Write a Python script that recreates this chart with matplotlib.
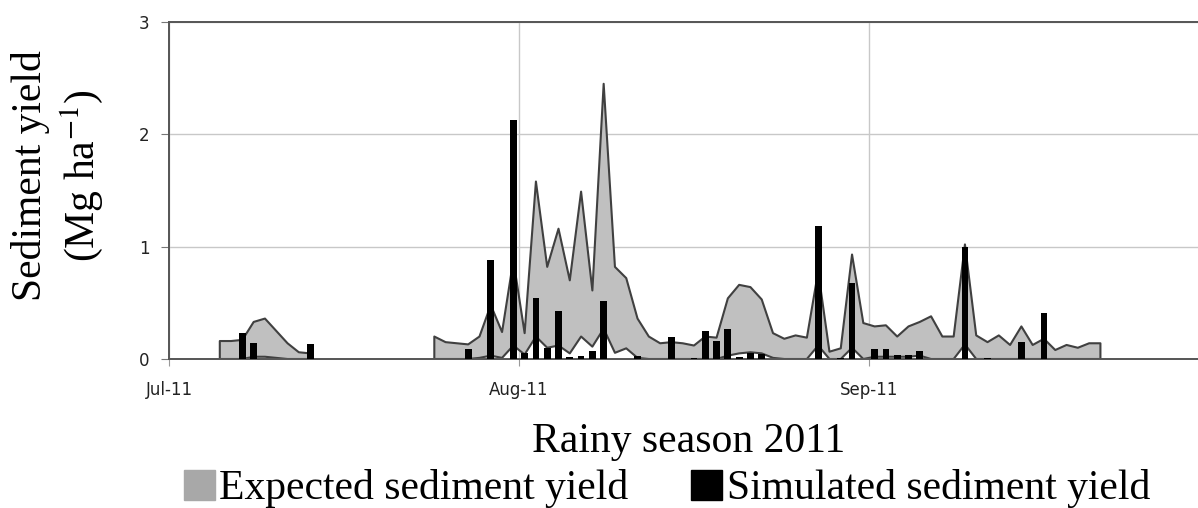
import numpy as np
import pandas as pd
import matplotlib
matplotlib.use('Agg')
import matplotlib.pyplot as plt
import matplotlib.dates as mdates
from matplotlib.patches import Patch

nan = np.nan

## daily expected sediment yield band (Mg/ha), Jul 5 - Sep 21 2011
days = pd.date_range('2011-07-05', '2011-09-21', freq='D')
expected_upper = [0.16, 0.16, 0.17, 0.33, 0.36, 0.25, 0.14, 0.06, 0.05,
                  nan, nan, nan, nan, nan, nan, nan, nan, nan, nan,
                  0.20, 0.15, 0.14, 0.13, 0.20, 0.48, 0.24, 0.88, 0.23, 1.58,
                  0.82, 1.16, 0.70, 1.49, 0.61, 2.45, 0.82, 0.72, 0.36, 0.20,
                  0.14, 0.15, 0.14, 0.12, 0.20, 0.19, 0.54, 0.66, 0.64, 0.53,
                  0.23, 0.18, 0.21, 0.19, 0.78, 0.065, 0.095, 0.93, 0.32, 0.29,
                  0.30, 0.20, 0.29, 0.33, 0.38, 0.20, 0.20, 1.02, 0.21, 0.15,
                  0.21, 0.125, 0.29, 0.125, 0.18, 0.08, 0.125, 0.10, 0.14, 0.14]
expected_lower = [0, 0, 0, 0.02, 0.02, 0.01, 0, 0, 0,
                  nan, nan, nan, nan, nan, nan, nan, nan, nan, nan,
                  0, 0, 0, 0, 0.01, 0.03, 0.01, 0.12, 0.04, 0.20,
                  0.10, 0.12, 0.05, 0.20, 0.11, 0.27, 0.055, 0.095, 0.01, 0,
                  0, 0, 0, 0, 0, 0, 0.03, 0.05, 0.06, 0.05,
                  0.01, 0, 0, 0, 0.12, 0, 0, 0.10, 0, 0.02,
                  0.02, 0.02, 0.02, 0.03, 0, 0, 0, 0.13, 0, 0,
                  0, 0, 0, 0, 0, 0, 0, 0, 0, 0]

## simulated events
sim_days = ['2011-07-07', '2011-07-08', '2011-07-13', '2011-07-27', '2011-07-29',
            '2011-07-31', '2011-08-01', '2011-08-02', '2011-08-03', '2011-08-04',
            '2011-08-05', '2011-08-06', '2011-08-07', '2011-08-08', '2011-08-11',
            '2011-08-14', '2011-08-16', '2011-08-17', '2011-08-18', '2011-08-19',
            '2011-08-20', '2011-08-21', '2011-08-22', '2011-08-27', '2011-08-29',
            '2011-08-30', '2011-09-01', '2011-09-02', '2011-09-03', '2011-09-04',
            '2011-09-05', '2011-09-09', '2011-09-11', '2011-09-14', '2011-09-16']
sim_yield = [0.23, 0.14, 0.13, 0.085, 0.88,
             2.13, 0.05, 0.54, 0.095, 0.43,
             0.015, 0.025, 0.07, 0.52, 0.025,
             0.20, 0.005, 0.245, 0.16, 0.27,
             0.02, 0.05, 0.045, 1.18, 0.01,
             0.68, 0.085, 0.085, 0.035, 0.035,
             0.07, 1.00, 0.005, 0.155, 0.41]

months = ['2011-07-01', '2011-08-01', '2011-09-01']
month_labels = ['Jul-11', 'Aug-11', 'Sep-11']

plt.rcParams['mathtext.fontset'] = 'stix'
serif = 'Liberation Serif'

W, H = 1198, 508
fig = plt.figure(figsize=(W / 100, H / 100), dpi=100)
x0 = mdates.date2num(pd.Timestamp('2011-07-01'))
x1 = mdates.date2num(pd.Timestamp('2011-10-01'))
px_day = 11.29
ax = fig.add_axes([169 / W, 149 / H, (x1 - x0) * px_day / W, 337 / H])

# points sit in the middle of each day slot
xd = mdates.date2num(days) + 0.5
ax.fill_between(xd, expected_lower, expected_upper, facecolor='#c0c0c0',
                edgecolor='#404040', linewidth=1.5, zorder=2)
xs = mdates.date2num(pd.to_datetime(sim_days)) + 0.5
ax.bar(xs, sim_yield, width=0.6, color='black', zorder=3)

ax.set_xlim(x0, x1)
ax.set_ylim(0, 3)
ax.set_yticks([0, 1, 2, 3])
ax.set_xticks(mdates.date2num(pd.to_datetime(months)))
ax.set_xticklabels(month_labels)
ax.grid(True, color='#c8c8c8', linewidth=1.0)
ax.set_axisbelow(True)
for s in ax.spines.values():
    s.set_color('#555555')
    s.set_linewidth(1.4)
ax.tick_params(axis='y', length=6, color='#777777', pad=8, labelsize=12, labelcolor='#222222')
ax.tick_params(axis='x', length=5, color='#999999', pad=11, labelsize=12, labelcolor='#222222')

fig.text(58 / W, 1 - 176 / H, 'Sediment yield\n(Mg ha$^{-1}$)', rotation=90,
         ha='center', va='center', multialignment='center',
         family=serif, fontsize=30)
fig.text(689 / W, 1 - 442 / H, 'Rainy season 2011', ha='center', va='center',
         family=serif, fontsize=30)

handles = [Patch(facecolor='#a8a8a8', edgecolor='#a8a8a8'),
           Patch(facecolor='black', edgecolor='black')]
fig.legend(handles, ['Expected sediment yield', 'Simulated sediment yield'],
           loc='center', bbox_to_anchor=(667 / W, 1 - 489 / H), ncol=2,
           frameon=False, prop={'family': serif, 'size': 30},
           handlelength=0.75, handleheight=0.75, handletextpad=0.1,
           columnspacing=1.5, borderpad=0, borderaxespad=0)

fig.savefig('out.png', dpi=100)
